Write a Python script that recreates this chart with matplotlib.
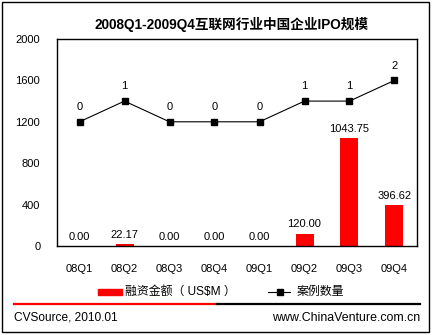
import matplotlib
matplotlib.use("Agg")
import matplotlib.pyplot as plt
from matplotlib.lines import Line2D
from matplotlib.patches import Rectangle

plt.rcParams['font.family'] = ['Liberation Sans', 'Noto Sans CJK SC', 'DejaVu Sans']

quarters = ["08Q1", "08Q2", "08Q3", "08Q4", "09Q1", "09Q2", "09Q3", "09Q4"]
amount = [0.00, 22.17, 0.00, 0.00, 0.00, 120.00, 1043.75, 396.62]
deals = [0, 1, 0, 0, 0, 1, 1, 2]
yticks = [0, 400, 800, 1200, 1600, 2000]

W, H = 435, 335
fig = plt.figure(figsize=(W / 100, H / 100), dpi=100)

def fx(px):
    return px / W

def fy(py):
    return 1 - py / H

# outer frame
fig.patches.append(Rectangle((fx(2), fy(332)), fx(429) - fx(2), fy(2) - fy(332),
                             transform=fig.transFigure, fill=False,
                             edgecolor="black", linewidth=1.0))

ax = fig.add_axes([fx(57), fy(246), fx(417) - fx(57), fy(39) - fy(246)])
x = list(range(len(quarters)))
ax.bar(x, amount, width=0.4, color="#FF0000", zorder=2)
ax.set_xlim(-0.5, len(quarters) - 0.5)
ax.set_ylim(0, 2000)
ax.set_yticks(yticks)
ax.set_yticklabels([str(v) for v in yticks], fontsize=8)
ax.set_xticks(x)
ax.set_xticklabels(quarters, fontsize=8)
ax.tick_params(length=0, pad=12)
ax.tick_params(axis="x", pad=13)
for s in ax.spines.values():
    s.set_linewidth(1.0)

for xi, v in zip(x, amount):
    ax.annotate(f"{v:.2f}", (xi, v), xytext=(0, 3), textcoords="offset points",
                ha="center", va="bottom", fontsize=8)

ax2 = ax.twinx()
ax2.set_ylim(-6, 4)
ax2.plot(x, deals, color="black", linewidth=0.8, marker="s", markersize=5, zorder=3)
ax2.set_yticks([])
for s in ax2.spines.values():
    s.set_visible(False)
for xi, v in zip(x, deals):
    ax2.annotate(str(v), (xi, v), xytext=(0, 7), textcoords="offset points",
                 ha="center", va="bottom", fontsize=8)

fig.text(fx(232), fy(25), "2008Q1-2009Q4互联网行业中国企业IPO规模",
         ha="center", va="center", fontsize=9.8, fontweight="bold")

# legend
fig.patches.append(Rectangle((fx(98), fy(295)), fx(122) - fx(98), fy(289) - fy(295),
                             transform=fig.transFigure, color="#FF0000"))
fig.text(fx(125), fy(292), "融资金额（ US$M ）", ha="left", va="center", fontsize=8.6)
fig.lines.append(Line2D([fx(268), fx(290)], [fy(292), fy(292)], transform=fig.transFigure,
                        color="black", linewidth=0.8))
fig.lines.append(Line2D([fx(280)], [fy(292)], transform=fig.transFigure,
                        color="black", marker="s", markersize=4.5))
fig.text(fx(297), fy(292), "案例数量", ha="left", va="center", fontsize=8.6)

# footer rule
fig.lines.append(Line2D([fx(14), fx(217)], [fy(304), fy(304)], transform=fig.transFigure,
                        color="#FF0000", linewidth=1.6))
fig.lines.append(Line2D([fx(217), fx(420)], [fy(304), fy(304)], transform=fig.transFigure,
                        color="black", linewidth=1.6))
fig.text(fx(14), fy(318), "CVSource, 2010.01", ha="left", va="center", fontsize=8.6)
fig.text(fx(420), fy(318), "www.ChinaVenture.com.cn", ha="right", va="center", fontsize=8.9)

fig.savefig("out.png", dpi=100, facecolor="white")
